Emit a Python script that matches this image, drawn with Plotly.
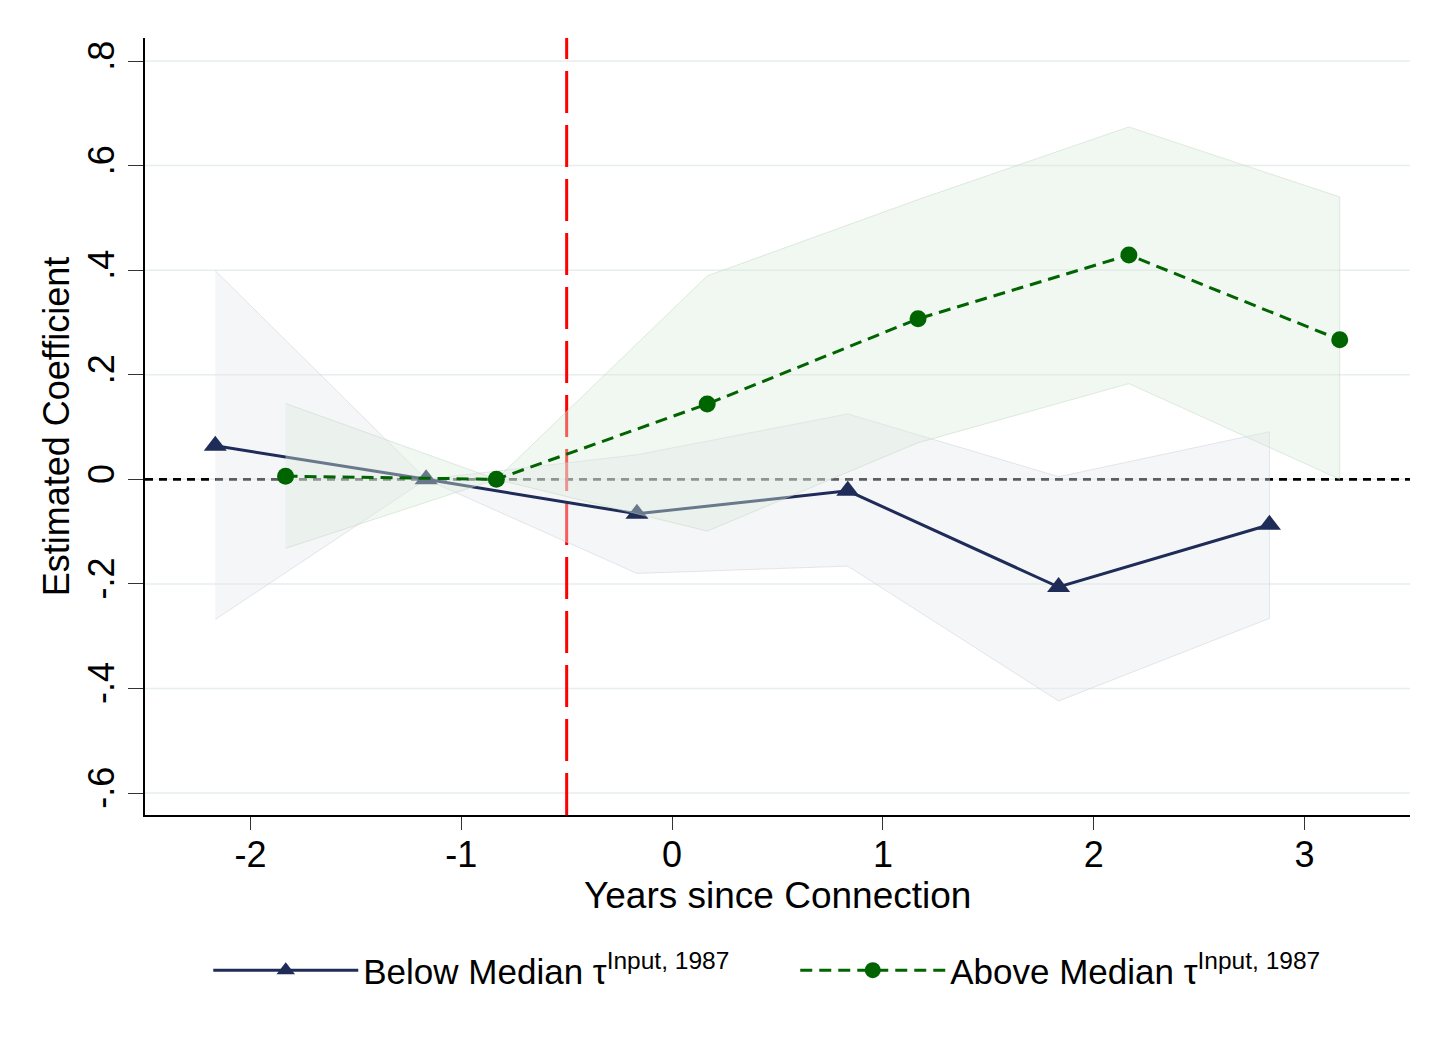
import plotly.graph_objects as go

# ---- data ----
years = [-2, -1, 0, 1, 2, 3]
dodge = 1 / 6  # horizontal dodge of the two series around each year

below_coef = [0.064, 0.0, -0.066, -0.022, -0.206, -0.087]
below_lo = [-0.268, 0.0, -0.180, -0.166, -0.424, -0.266]
below_hi = [0.399, 0.0, 0.047, 0.125, 0.005, 0.091]

above_coef = [0.006, 0.0, 0.144, 0.307, 0.429, 0.267]
above_lo = [-0.132, 0.0, -0.099, 0.070, 0.183, 0.0]
above_hi = [0.145, 0.0, 0.389, 0.535, 0.674, 0.540]

y_ticks = [-0.6, -0.4, -0.2, 0.0, 0.2, 0.4, 0.6, 0.8]
y_ticklabels = ["-.6", "-.4", "-.2", "0", ".2", ".4", ".6", ".8"]
x_ticklabels = ["-2", "-1", "0", "1", "2", "3"]
event_line = -0.5

below_name = "Below Median τ<sup>Input, 1987</sup>"
above_name = "Above Median τ<sup>Input, 1987</sup>"

NAVY = "#1f2c58"
GREEN = "#006400"
GRID = "#e6eef0"
FONT = "Liberation Sans, Arial, Helvetica, sans-serif"

below_x = [y - dodge for y in years]
above_x = [y + dodge for y in years]

fig = go.Figure()

# navy confidence band (below navy line)
fig.add_trace(go.Scatter(
    x=below_x + below_x[::-1], y=below_hi + below_lo[::-1],
    fill="toself", mode="lines", fillcolor="rgba(229,232,238,0.4)",
    line=dict(color="rgba(200,205,212,0.6)", width=0.8),
    showlegend=False, hoverinfo="skip"))

# navy line
fig.add_trace(go.Scatter(
    x=below_x, y=below_coef, mode="lines+markers", name=below_name,
    line=dict(color=NAVY, width=3),
    marker=dict(symbol="triangle-up", size=20, color=NAVY)))

# green confidence band (drawn over the navy line)
fig.add_trace(go.Scatter(
    x=above_x + above_x[::-1], y=above_hi + above_lo[::-1],
    fill="toself", mode="lines", fillcolor="rgba(221,234,221,0.4)",
    line=dict(color="rgba(190,215,190,0.6)", width=0.8),
    showlegend=False, hoverinfo="skip"))

# green line
fig.add_trace(go.Scatter(
    x=above_x, y=above_coef, mode="lines+markers", name=above_name,
    line=dict(color=GREEN, width=3, dash="12px,7px"),
    marker=dict(symbol="circle", size=17, color=GREEN)))

# gridlines as shapes so the dashed zero line can sit above them but below the data
for t in y_ticks:
    fig.add_hline(y=t, line=dict(color=GRID, width=1.5), layer="below")
fig.add_hline(y=0, line=dict(color="black", width=2.7, dash="8px,6px"), layer="below")
fig.add_vline(x=event_line, line=dict(color="#ff0000", width=3, dash="42px,12px"), layer="below")

fig.update_layout(
    width=1450, height=1054,
    margin=dict(l=145, r=40, t=38, b=239, autoexpand=False),
    plot_bgcolor="white", paper_bgcolor="white",
    font=dict(family=FONT, size=36, color="black"),
    legend=dict(orientation="h", x=0.05, xanchor="left",
                y=-0.2, yanchor="middle",
                font=dict(size=35), itemwidth=145,
                entrywidth=427, entrywidthmode="pixels"),
    annotations=[dict(text="Years since Connection", xref="paper", yref="paper",
                      x=0.5, y=-0.103, xanchor="center", yanchor="middle",
                      showarrow=False, font=dict(size=37, color="black"))],
)
fig.update_xaxes(
    range=[-2.5, 3.5], tickvals=years, ticktext=x_ticklabels,
    showgrid=False, zeroline=False, showline=True, linecolor="black", linewidth=2,
    ticks="outside", ticklen=13, tickwidth=1.3, tickcolor="#333",
    tickfont=dict(size=36), ticklabelstandoff=-6,
)
fig.update_yaxes(
    range=[-0.642, 0.844], tickvals=y_ticks, ticktext=y_ticklabels, tickangle=-90,
    showgrid=False, zeroline=False,
    showline=True, linecolor="black", linewidth=2,
    ticks="outside", ticklen=15, tickwidth=1.3, tickcolor="#333",
    tickfont=dict(size=36),
    title=dict(text="Estimated Coefficient", font=dict(size=36), standoff=0),
)

fig.write_html("out.html")
